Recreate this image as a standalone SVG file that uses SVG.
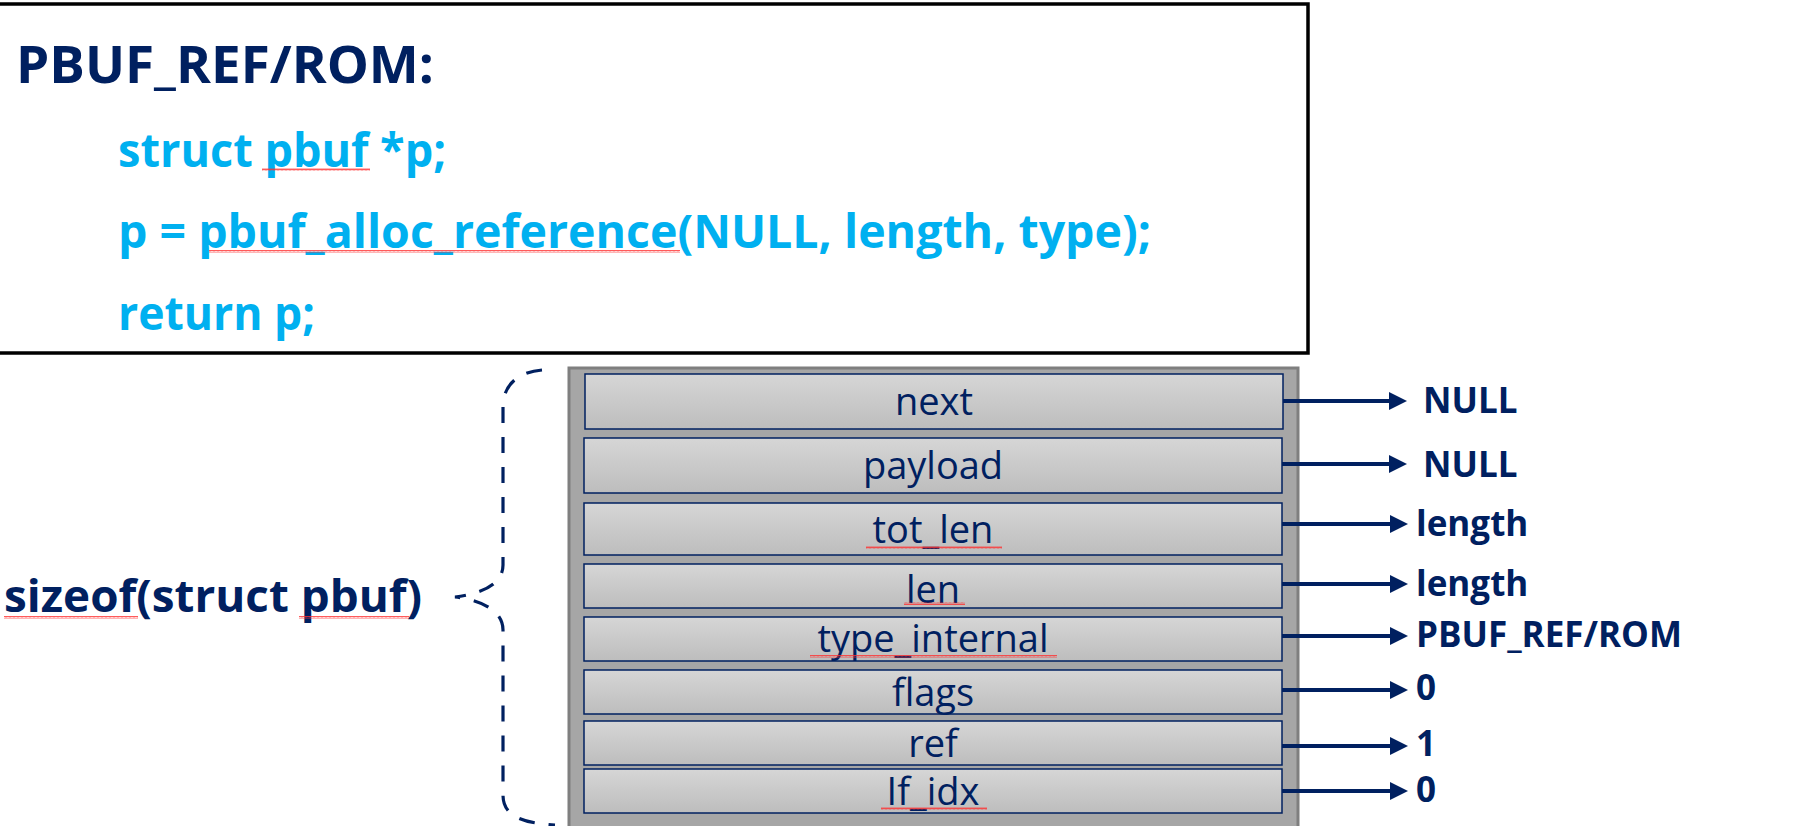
<svg xmlns="http://www.w3.org/2000/svg" width="1798" height="826" viewBox="0 0 1798 826">
<defs>
<linearGradient id="rowGrad" x1="0" y1="0" x2="0" y2="1">
<stop offset="0" stop-color="#d6d6d6"/>
<stop offset="1" stop-color="#bdbdbd"/>
</linearGradient>
<marker id="arrow" markerUnits="userSpaceOnUse" markerWidth="18" markerHeight="18" refX="1" refY="9" orient="auto" viewBox="0 0 18 18">
<path d="M0,0 L18,9 L0,18 z" fill="#002060"/>
</marker>
<pattern id="sq" patternUnits="userSpaceOnUse" width="4" height="3">
<path d="M0,2.5 L1,0.5 L2,2.5 L3,0.5 L4,2.5" fill="none" stroke="#ff3030" stroke-width="0.8"/>
</pattern>
<style>
.head{font-family:"Open Sans","Noto Sans",sans-serif;font-weight:bold;font-size:52px;fill:#002060}
.code{font-family:"Open Sans","Noto Sans",sans-serif;font-weight:bold;font-size:46px;fill:#00b0f0}
.row{fill:url(#rowGrad);stroke:#002060;stroke-width:1.5}
.rlabel{font-family:"Open Sans","Noto Sans",sans-serif;font-size:38px;fill:#002060;text-anchor:middle}
.val{font-family:"Open Sans","Noto Sans",sans-serif;font-weight:bold;font-size:35px;fill:#002060}
.conn{stroke:#002060;stroke-width:4;fill:none;marker-end:url(#arrow)}
.brace{stroke:#002060;stroke-width:3.2;fill:none;stroke-dasharray:16 14}
.squig{fill:url(#sq)}
</style>
</defs>
<rect width="1798" height="826" fill="#ffffff"/>

<g id="code-box">
<rect x="-5" y="4" width="1313" height="349" fill="#ffffff" stroke="#000000" stroke-width="3.5"/>
<text class="head" x="16" y="83" textLength="418" lengthAdjust="spacingAndGlyphs">PBUF_REF/ROM:</text>
<text class="code" x="118" y="167" textLength="328" lengthAdjust="spacingAndGlyphs">struct pbuf *p;</text>
<text class="code" x="118" y="248" textLength="1033" lengthAdjust="spacingAndGlyphs">p = pbuf_alloc_reference(NULL, length, type);</text>
<text class="code" x="118" y="330" textLength="197" lengthAdjust="spacingAndGlyphs">return p;</text>
<rect class="squig" x="262" y="168" width="108" height="3"/>
<rect class="squig" x="209" y="250" width="471" height="3"/>
</g>

<g id="size-label">
<text class="head" style="font-size:45px" x="4" y="612" textLength="418" lengthAdjust="spacingAndGlyphs">sizeof(struct pbuf)</text>
<rect class="squig" x="4" y="616" width="134" height="3"/>
<rect class="squig" x="299" y="616" width="110" height="3"/>
</g>

<g id="brace">
<path class="brace" d="M542,370 C518,372 503,385 503,407 L503,565 C503,585 480,594 455,597 C480,600 503,610 503,630 L503,795 C503,815 520,823 555,825"/>
</g>

<g id="pbuf-struct">
<rect x="569" y="368" width="729" height="470" fill="#a6a6a6" stroke="#7f7f7f" stroke-width="3"/>
</g>

<g id="row-next">
<rect class="row" x="585" y="374" width="698" height="55"/>
<text class="rlabel" x="934" y="415">next</text>
</g>
<g id="row-payload">
<rect class="row" x="584" y="438" width="698" height="55"/>
<text class="rlabel" x="933" y="479">payload</text>
</g>
<g id="row-tot_len">
<rect class="row" x="584" y="503" width="698" height="52"/>
<text class="rlabel" x="933" y="543">tot_len</text>
<rect class="squig" x="866" y="546" width="136" height="3"/>
</g>
<g id="row-len">
<rect class="row" x="584" y="564" width="698" height="44"/>
<text class="rlabel" x="933" y="603">len</text>
<rect class="squig" x="904" y="602" width="61" height="3"/>
</g>
<g id="row-type_internal">
<rect class="row" x="584" y="617" width="698" height="44"/>
<text class="rlabel" x="933" y="652">type_internal</text>
<rect class="squig" x="810" y="655" width="247" height="3"/>
</g>
<g id="row-flags">
<rect class="row" x="584" y="670" width="698" height="44"/>
<text class="rlabel" x="933" y="706">flags</text>
</g>
<g id="row-ref">
<rect class="row" x="584" y="721" width="698" height="44"/>
<text class="rlabel" x="933" y="757">ref</text>
</g>
<g id="row-if_idx">
<rect class="row" x="584" y="769" width="698" height="44"/>
<text class="rlabel" x="933" y="805">If_idx</text>
<rect class="squig" x="881" y="807" width="106" height="3"/>
</g>

<g id="connectors">
<line class="conn" x1="1283" y1="401" x2="1390" y2="401"/>
<line class="conn" x1="1282" y1="464" x2="1390" y2="464"/>
<line class="conn" x1="1282" y1="524" x2="1391" y2="524"/>
<line class="conn" x1="1282" y1="584" x2="1391" y2="584"/>
<line class="conn" x1="1282" y1="636" x2="1391" y2="636"/>
<line class="conn" x1="1282" y1="690" x2="1391" y2="690"/>
<line class="conn" x1="1282" y1="746" x2="1391" y2="746"/>
<line class="conn" x1="1282" y1="791" x2="1391" y2="791"/>
</g>

<g id="values">
<text class="val" x="1423" y="413">NULL</text>
<text class="val" x="1423" y="477">NULL</text>
<text class="val" x="1416" y="536">length</text>
<text class="val" x="1416" y="596">length</text>
<text class="val" x="1416" y="647">PBUF_REF/ROM</text>
<text class="val" x="1416" y="700">0</text>
<text class="val" x="1416" y="756">1</text>
<text class="val" x="1416" y="802">0</text>
</g>
</svg>
